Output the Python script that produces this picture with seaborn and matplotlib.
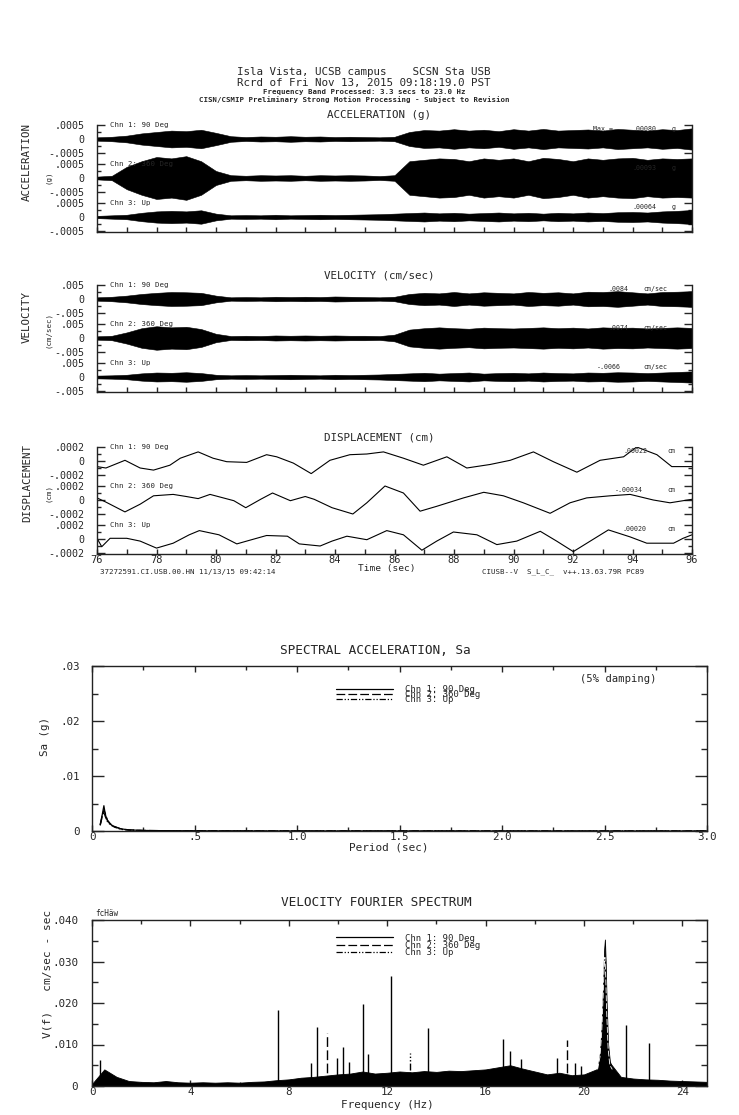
import numpy as np
import pandas as pd
import matplotlib
matplotlib.use("Agg")
import matplotlib.pyplot as plt
from matplotlib.lines import Line2D
import seaborn as sns

sns.set_style("ticks")
plt.rcParams['font.family'] = ['DejaVu Sans Mono']
plt.rcParams['xtick.direction'] = 'in'
plt.rcParams['ytick.direction'] = 'in'
plt.rcParams['axes.edgecolor'] = '#222222'
plt.rcParams['axes.linewidth'] = 1.0

W, H = 739, 1115

# ---------------- data ----------------
chan_labels = ['Chn 1: 90 Deg', 'Chn 2: 360 Deg', 'Chn 3: Up']

# envelope sample times for acceleration / velocity (sec)
env_t = [76.0, 76.5, 77.0, 77.5, 78.0, 78.5, 79.0, 79.5, 80.0, 80.5, 81.0,
         81.5, 82.0, 82.5, 83.0, 83.5, 84.0, 84.5, 85.0, 85.5, 86.0, 86.5,
         87.0, 87.5, 88.0, 88.5, 89.0, 89.5, 90.0, 90.5, 91.0, 91.5, 92.0,
         92.5, 93.0, 93.5, 94.0, 94.5, 95.0, 95.5, 96.0]

# acceleration envelope (g)
acc_chn1 = [0.00006, 0.00008, 0.00012, 0.0002, 0.00025, 0.0003, 0.00028, 0.00033, 0.00022, 0.0001, 0.00007,
            0.00009, 0.00008, 0.0001, 0.00008, 0.00009, 0.00007, 0.00008, 0.00007, 0.00006, 0.00008, 0.00025,
            0.00032, 0.0003, 0.00035, 0.0003, 0.00033, 0.00028, 0.00035, 0.0003, 0.00036, 0.0003, 0.00032,
            0.00034, 0.0003, 0.00036, 0.00033, 0.0003, 0.00035, 0.00032, 0.00038]
acc_chn2 = [0.00005, 0.00008, 0.0004, 0.0006, 0.00075, 0.0007, 0.00078, 0.0006, 0.00025, 0.0001, 0.00008,
            0.0001, 0.00009, 0.0001, 0.00008, 0.0001, 0.00009, 0.0001, 0.00009, 0.00007, 0.0001, 0.0006,
            0.00065, 0.0007, 0.00068, 0.0006, 0.0007, 0.00065, 0.0007, 0.0006, 0.00072, 0.00068, 0.0006,
            0.0007, 0.00065, 0.0007, 0.00072, 0.00065, 0.0007, 0.00068, 0.0007]
acc_chn3 = [0.00004, 0.00006, 0.00008, 0.00015, 0.0002, 0.00022, 0.0002, 0.00024, 0.00012, 0.00006, 0.00007,
            0.00006, 0.00008, 0.00006, 0.00007, 0.00008, 0.00007, 0.00008, 0.00009, 0.0001, 0.00012, 0.00014,
            0.00016, 0.00013, 0.00015, 0.00012, 0.00014, 0.00016, 0.00013, 0.00015, 0.00012, 0.00015, 0.00013,
            0.00016, 0.00014, 0.00017, 0.00018, 0.00016, 0.0002, 0.00022, 0.00025]

# velocity envelope (cm/sec)
vel_chn1 = [0.0006, 0.0008, 0.0012, 0.0018, 0.0022, 0.0025, 0.0024, 0.0022, 0.0012, 0.0006, 0.0007,
            0.0006, 0.0008, 0.0007, 0.0008, 0.0007, 0.0009, 0.0008, 0.0007, 0.0006, 0.0008, 0.0018,
            0.0022, 0.002, 0.0025, 0.002, 0.0024, 0.0022, 0.002, 0.0025, 0.0022, 0.0024, 0.002,
            0.0026, 0.0025, 0.0028, 0.0024, 0.002, 0.0025, 0.0026, 0.0028]
vel_chn2 = [0.0006, 0.0008, 0.002, 0.0035, 0.0042, 0.0038, 0.004, 0.0032, 0.0015, 0.0007, 0.0008,
            0.0007, 0.0009, 0.0008, 0.0009, 0.0008, 0.0009, 0.0008, 0.0008, 0.0007, 0.0012, 0.003,
            0.0035, 0.0038, 0.0035, 0.0033, 0.0037, 0.0035, 0.0034, 0.0036, 0.0038, 0.0035, 0.0037,
            0.0034, 0.0038, 0.0036, 0.0037, 0.0034, 0.0036, 0.0038, 0.0036]
vel_chn3 = [0.0005, 0.0006, 0.0008, 0.0013, 0.0016, 0.0015, 0.0017, 0.0014, 0.0008, 0.0006, 0.0007,
            0.0006, 0.0007, 0.0008, 0.0007, 0.0006, 0.0008, 0.0007, 0.0008, 0.0009, 0.0011, 0.0013,
            0.0015, 0.0012, 0.0014, 0.0016, 0.0012, 0.0014, 0.0015, 0.0013, 0.0016, 0.0014, 0.0013,
            0.0016, 0.0015, 0.0017, 0.0016, 0.0014, 0.0016, 0.0018, 0.002]

# displacement traces (cm)
disp_t1 = [76.0, 76.3, 76.94, 77.45, 77.9, 78.45, 78.8, 79.4, 79.9, 80.36, 81.03, 81.7, 82.04,
           82.6, 83.2, 83.83, 84.5, 85.07, 85.63, 86.3, 86.97, 87.76, 88.43, 89.21, 89.89,
           90.67, 91.34, 92.13, 92.91, 93.7, 94.14, 94.82, 95.32, 96.0]
disp_chn1 = [-0.00008, -0.0001, 0.00001, -0.0001, -0.00013, -0.00006, 0.00004, 0.00013, 0.00004,
             -0.00001, -0.00002, 0.00009, 0.00006, -0.00003, -0.00018, 0.00001, 0.00009, 0.0001,
             0.00013, 0.00004, -0.00006, 0.00006, -0.0001, -0.00005, 0.00001, 0.00013, -0.00001,
             -0.00016, 0.00001, 0.00006, 0.0002, 0.00009, -0.00008, -0.00008]
disp_t2 = [76.0, 76.3, 76.94, 77.45, 77.9, 78.56, 79.0, 79.4, 79.8, 80.6, 81.0, 81.5, 81.9, 82.5,
           83.0, 83.3, 83.9, 84.6, 85.07, 85.68, 86.3, 86.86, 87.42, 88.32, 89.0, 89.66, 90.33,
           91.23, 91.9, 92.46, 93.25, 93.92, 94.7, 95.26, 96.0]
disp_chn2 = [0.00003, -0.00003, -0.00017, -0.00006, 0.00006, 0.00008, 0.00005, 0.00002, 0.00008,
             -0.00001, -0.00011, 0.00001, 0.0001, -0.00001, 0.00005, 0.00001, -0.00011, -0.0002,
             -0.00004, 0.0002, 0.0001, -0.00016, -0.00009, 0.00003, 0.00011, 0.00006, -0.00004,
             -0.00019, -0.00004, 0.00003, 0.00006, 0.00008, 0.0, -0.00004, 0.00001]
disp_t3 = [76.0, 76.16, 76.44, 77.0, 77.45, 78.0, 78.56, 79.1, 79.44, 80.1, 80.7, 81.03, 81.7, 82.4,
           82.8, 83.5, 83.9, 84.4, 85.07, 85.74, 86.3, 86.92, 87.42, 87.98, 88.77, 89.44, 90.11,
           90.9, 91.45, 92.01, 92.58, 93.19, 93.92, 94.48, 95.38, 95.7, 96.0]
disp_chn3 = [0.00001, -0.00011, 0.00001, 0.00001, -0.00003, -0.00013, -0.00006, 0.00006, 0.00012,
             0.00006, -0.00007, -0.00003, 0.00005, 0.00004, -0.00007, -0.0001, -0.00003, 0.00004,
             -0.00001, 0.00012, 0.00006, -0.00016, -0.00003, 0.0001, 0.00006, -0.00008, -0.00003,
             0.00011, -0.00003, -0.00018, -0.00003, 0.00013, 0.00003, -0.00006, -0.00006, 0.00001,
             0.00006]

acc_max = ['.00080', '.00093', '.00064']
vel_max = ['.0084', '.0074', '-.0066']
disp_max = ['.00022', '-.00034', '.00020']

# spectral acceleration (5% damping)
sa_period = [0.04, 0.05, 0.058, 0.065, 0.075, 0.09, 0.11, 0.14, 0.18, 0.25, 0.4, 0.7, 1.0, 1.5, 2.0, 2.5, 3.0]
sa_chn1 = [0.0012, 0.0030, 0.0046, 0.0030, 0.0019, 0.0012, 0.0008, 0.0004, 0.0002, 0.0001,
           0.00004, 0.00002, 0.00001, 0.00001, 0.0, 0.0, 0.0]
sa_chn2 = [0.0010, 0.0026, 0.0038, 0.0032, 0.0020, 0.0013, 0.0008, 0.0004, 0.0002, 0.0001,
           0.00004, 0.00002, 0.00001, 0.00001, 0.0, 0.0, 0.0]
sa_chn3 = [0.0011, 0.0028, 0.0034, 0.0026, 0.0017, 0.0011, 0.0007, 0.0003, 0.00015, 0.00008,
           0.00003, 0.00002, 0.00001, 0.0, 0.0, 0.0, 0.0]

# velocity fourier spectrum: background level
fs_freq = [0.0, 0.5, 1.0, 1.5, 2.0, 2.5, 3.0, 3.5, 4.0, 4.5, 5.0, 5.5, 6.0, 6.5, 7.0, 7.5, 8.0,
           8.5, 9.0, 9.5, 10.0, 10.5, 11.0, 11.5, 12.0, 12.5, 13.0, 13.5, 14.0, 14.5, 15.0, 15.5,
           16.0, 16.5, 17.0, 17.5, 18.0, 18.5, 19.0, 19.5, 20.0, 20.5, 21.0, 21.5, 22.0, 22.5,
           23.0, 23.5, 24.0, 24.5, 25.0]
fs_floor = [0.0005, 0.0040, 0.0022, 0.0012, 0.0010, 0.0009, 0.0012, 0.0009, 0.0008, 0.0009, 0.0008,
            0.0009, 0.0008, 0.0010, 0.0011, 0.0014, 0.0016, 0.0020, 0.0022, 0.0025, 0.0028, 0.0030,
            0.0035, 0.0030, 0.0032, 0.0035, 0.0033, 0.0036, 0.0034, 0.0037, 0.0036, 0.0038, 0.0040,
            0.0045, 0.0050, 0.0042, 0.0035, 0.0028, 0.0032, 0.0026, 0.0028, 0.0040, 0.0060, 0.0022,
            0.0018, 0.0016, 0.0015, 0.0013, 0.0012, 0.0011, 0.0010]
# resonance near 20.8 Hz
pk_freq = [20.55, 20.65, 20.72, 20.78, 20.82, 20.85, 20.88, 20.92, 20.98, 21.05, 21.15]
pk_chn1 = [0.004, 0.008, 0.015, 0.025, 0.033, 0.0353, 0.030, 0.020, 0.010, 0.006, 0.004]
pk_chn2 = [0.004, 0.007, 0.013, 0.022, 0.029, 0.031, 0.027, 0.018, 0.009, 0.005, 0.004]
# narrow spectral lines
spike_freq = [0.33, 7.56, 8.9, 9.13, 9.54, 9.96, 10.19, 10.45, 11.03, 11.2, 12.14, 12.93, 13.66,
              16.69, 16.99, 17.44, 18.9, 19.31, 19.62, 19.86, 21.69, 22.65]
spike_amp = [0.0063, 0.0183, 0.0055, 0.0143, 0.0128, 0.0067, 0.0095, 0.0059, 0.0197, 0.0077, 0.0265,
             0.0080, 0.0140, 0.0113, 0.0084, 0.0065, 0.0067, 0.0110, 0.0055, 0.0048, 0.0147, 0.0104]
spike_chn = [1, 1, 1, 1, 2, 1, 1, 1, 1, 1, 1, 3, 1, 1, 1, 1, 1, 2, 1, 1, 1, 1]

# ---------------- figure ----------------
fig = plt.figure(figsize=(W / 100, H / 100), dpi=100)

ls_map = {1: '-', 2: (0, (7, 2.5)), 3: (0, (5, 1.5, 1, 1.5, 1, 1.5))}


def ax_at(x0, y0, x1, y1):
    return fig.add_axes([x0 / W, 1 - y1 / H, (x1 - x0) / W, (y1 - y0) / H])


def ftext(x, y, s, **kw):
    kw.setdefault('ha', 'center')
    kw.setdefault('va', 'center')
    fig.text(x / W, 1 - y / H, s, **kw)


# header
ftext(364, 72, 'Isla Vista, UCSB campus    SCSN Sta USB', fontsize=7.8)
ftext(364, 83, 'Rcrd of Fri Nov 13, 2015 09:18:19.0 PST', fontsize=7.8)
ftext(364, 92, 'Frequency Band Processed: 3.3 secs to 23.0 Hz', fontsize=5.3, fontweight='bold')
ftext(354, 100, 'CISN/CSMIP Preliminary Strong Motion Processing - Subject to Revision',
      fontsize=5.3, fontweight='bold')


def strip_group(y_top, amp, amp_lab, title, ylab, unit_lab, unit, maxes, val_x, unit_x,
                kind, data, ylab_y, unit_y):
    step = amp * 39 / 14
    ax = ax_at(97, y_top, 692, y_top + 107)
    for k in range(3):
        off = -k * step
        if kind == 'env':
            env = np.array(data[k])
            ax.fill_between(env_t, off - env, off + env, color='black', lw=0.4)
        else:
            t, v = data[k]
            sns.lineplot(x=t, y=np.array(v) + off, ax=ax, color='black', lw=0.8, sort=False)
        ax.text(76.45, off + amp, chan_labels[k], fontsize=5.3, va='center', ha='left')
        mx = off + amp * 0.7
        if k == 0 and unit == 'g':
            ax.text(92.67, mx, 'Max =', fontsize=4.8, va='center', ha='left')
        ax.text(val_x[k], mx, maxes[k], fontsize=4.8, va='center', ha='left')
        ax.text(unit_x, mx, unit, fontsize=4.8, va='center', ha='left')
    yt, yl, ym = [], [], []
    for k in range(3):
        off = -k * step
        yt += [off + amp, off, off - amp]
        yl += [amp_lab, '0', '-' + amp_lab]
        ym += [off + amp / 2, off - amp / 2]
    ax.set_yticks(yt)
    ax.set_yticklabels(yl)
    ax.set_yticks(ym, minor=True)
    ax.set_ylim(-2 * step - amp * 15 / 14, amp)
    ax.set_xlim(76, 96)
    ax.spines['top'].set_visible(False)
    ax.tick_params(axis='y', which='both', left=True, right=True, labelsize=7.2, pad=9)
    ax.tick_params(axis='y', which='major', length=5.5, width=1)
    ax.tick_params(axis='y', which='minor', length=3, width=1)
    ax.tick_params(axis='x', which='both', length=3.5, width=1)
    ax.set_xlabel('')
    ax.set_ylabel('')
    ftext(379, y_top - 10, title, fontsize=7.8)
    ftext(27, ylab_y, ylab, fontsize=7.8, rotation=90)
    ftext(48, unit_y, unit_lab, fontsize=5.3, rotation=90)
    return ax


ax_acc = strip_group(125, 0.0005, '.0005', 'ACCELERATION (g)', 'ACCELERATION', '(g)', 'g',
                     acc_max, [93.98, 93.98, 93.98], 95.33, 'env', [acc_chn1, acc_chn2, acc_chn3],
                     162, 177)
ax_acc.set_xticks(range(76, 97))
ax_acc.set_xticklabels([])

ax_vel = strip_group(285, 0.005, '.005', 'VELOCITY (cm/sec)', 'VELOCITY', '(cm/sec)', 'cm/sec',
                     vel_max, [93.18, 93.18, 92.8], 94.35, 'env', [vel_chn1, vel_chn2, vel_chn3],
                     317, 330)
ax_vel.set_xticks(range(76, 97))
ax_vel.set_xticklabels([])

ax_dis = strip_group(447, 0.0002, '.0002', 'DISPLACEMENT (cm)', 'DISPLACEMENT', '(cm)', 'cm',
                     disp_max, [93.68, 93.41, 93.65], 95.16, 'line',
                     [(disp_t1, disp_chn1), (disp_t2, disp_chn2), (disp_t3, disp_chn3)], 483, 493)
ax_dis.set_xticks(range(76, 97, 2))
ax_dis.set_xticks(range(77, 96, 2), minor=True)
ax_dis.tick_params(axis='x', labelsize=7.5, pad=0.5)
ftext(387, 568, 'Time (sec)', fontsize=6.8)
ftext(100, 572, '37272591.CI.USB.00.HN 11/13/15 09:42:14', fontsize=5.4, ha='left')
ftext(482, 572, 'CIUSB--V  S_L_C_  v++.13.63.79R PC89', fontsize=5.4, ha='left')


def legend_handles():
    return [Line2D([0], [0], color='black', lw=0.9, linestyle=ls_map[i + 1]) for i in range(3)]


# spectral acceleration
ax_sa = ax_at(92, 666, 707, 831)
for vals, c in [(sa_chn1, 1), (sa_chn2, 2), (sa_chn3, 3)]:
    sns.lineplot(x=sa_period, y=vals, ax=ax_sa, color='black', lw=0.9, linestyle=ls_map[c])
ax_sa.set_xlim(0, 3.0)
ax_sa.set_ylim(0, 0.03)
ax_sa.set_xticks([0, 0.5, 1.0, 1.5, 2.0, 2.5, 3.0])
ax_sa.set_xticklabels(['0', '.5', '1.0', '1.5', '2.0', '2.5', '3.0'])
ax_sa.set_xticks([0.25, 0.75, 1.25, 1.75, 2.25, 2.75], minor=True)
ax_sa.set_yticks([0, 0.01, 0.02, 0.03])
ax_sa.set_yticklabels(['0', '.01', '.02', '.03'])
ax_sa.set_yticks([0.005, 0.015, 0.025], minor=True)
ax_sa.tick_params(axis='both', which='both', top=True, right=True, labelsize=7.8, width=1)
ax_sa.tick_params(axis='y', which='major', length=8.5, pad=9)
ax_sa.tick_params(axis='y', which='minor', length=4.3)
ax_sa.tick_params(axis='x', which='major', length=4.3, pad=0.5)
ax_sa.tick_params(axis='x', which='minor', length=3)
ax_sa.set_xlabel('')
ax_sa.set_ylabel('')
ax_sa.legend(legend_handles(), chan_labels, loc='upper left', bbox_to_anchor=(0.397, 0.885),
             frameon=False, fontsize=6.5, handlelength=6.3, handletextpad=1.3,
             labelspacing=-0.45, borderpad=0, borderaxespad=0)
ftext(375, 650, 'SPECTRAL ACCELERATION, Sa', fontsize=9.2)
ftext(580, 679, '(5% damping)', fontsize=7.6, ha='left')
ftext(389, 847, 'Period (sec)', fontsize=7.9)
ftext(45, 737, 'Sa (g)', fontsize=7.8, rotation=90)

# velocity fourier spectrum
ax_fs = ax_at(92, 920, 707, 1086)
ax_fs.fill_between(fs_freq, 0, fs_floor, color='black', lw=0.6)
ax_fs.fill_between(pk_freq, 0, pk_chn1, color='black', lw=0.6)
sns.lineplot(x=pk_freq, y=pk_chn2, ax=ax_fs, color='white', lw=0.6, linestyle=ls_map[2])
spikes = pd.DataFrame({'f': spike_freq, 'a': spike_amp, 'c': spike_chn})
for c, grp in spikes.groupby('c'):
    ax_fs.vlines(grp['f'], 0, grp['a'], color='black', lw=1.0, linestyle=ls_map[c])
ax_fs.set_xlim(0, 25)
ax_fs.set_ylim(0, 0.040)
ax_fs.set_xticks([0, 4, 8, 12, 16, 20, 24])
ax_fs.set_xticklabels(['0', '4', '8', '12', '16', '20', '24'])
ax_fs.set_xticks([2, 6, 10, 14, 18, 22], minor=True)
ax_fs.set_yticks([0, 0.01, 0.02, 0.03, 0.04])
ax_fs.set_yticklabels(['0', '.010', '.020', '.030', '.040'])
ax_fs.set_yticks([0.005, 0.015, 0.025, 0.035], minor=True)
ax_fs.tick_params(axis='both', which='both', top=True, right=True, labelsize=7.8, width=1)
ax_fs.tick_params(axis='y', which='major', length=8.5, pad=10)
ax_fs.tick_params(axis='y', which='minor', length=4.3)
ax_fs.tick_params(axis='x', which='major', length=4.3, pad=0.5)
ax_fs.tick_params(axis='x', which='minor', length=3)
ax_fs.legend(legend_handles(), chan_labels, loc='upper left', bbox_to_anchor=(0.397, 0.918),
             frameon=False, fontsize=6.5, handlelength=6.3, handletextpad=1.3,
             labelspacing=-0.2, borderpad=0, borderaxespad=0)
ftext(376, 903, 'VELOCITY FOURIER SPECTRUM', fontsize=9.2)
ftext(95, 913, 'fcHäw', fontsize=5.5, ha='left')
ftext(387, 1105, 'Frequency (Hz)', fontsize=7.9)
ftext(47, 974, 'V(f)   cm/sec - sec', fontsize=8, rotation=90)

fig.savefig('out.png', dpi=100, facecolor='white')
